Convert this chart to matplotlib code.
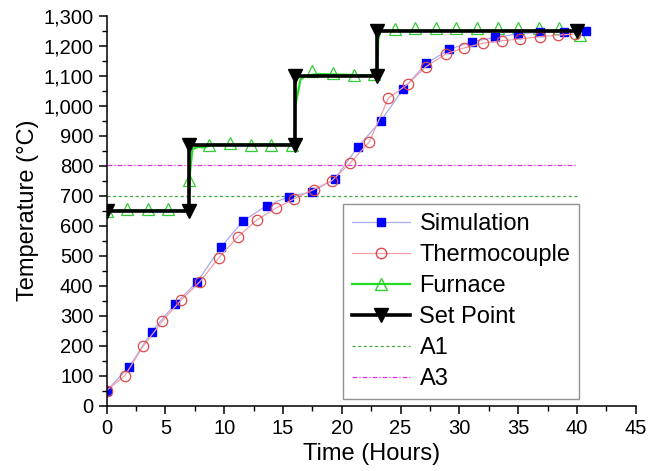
import matplotlib
matplotlib.use("Agg")
import matplotlib.pyplot as plt
from matplotlib.lines import Line2D
from matplotlib.ticker import MultipleLocator, FuncFormatter

plt.rcParams['font.family'] = ['Liberation Sans', 'DejaVu Sans']

# simulation (blue squares)
sim_x = [0, 1.9, 3.83, 5.81, 7.7, 9.7, 11.6, 13.6, 15.5, 17.45, 19.4, 21.36,
         23.35, 25.24, 27.2, 29.16, 31.05, 33.05, 34.95, 36.9, 38.9, 40.8]
sim_y = [50, 127, 246, 338, 412, 527, 615, 666, 696, 712, 755, 862,
         950, 1056, 1141, 1187, 1213, 1227, 1239, 1244, 1246, 1249]

# thermocouple (red open circles)
tc_x = [0, 1.56, 3.1, 4.74, 6.35, 7.94, 9.56, 11.17, 12.76, 14.4, 15.9, 17.6, 19.15,
        20.7, 22.35, 23.97, 25.6, 27.17, 28.85, 30.4, 32.05, 33.6, 35.2, 36.9, 38.4, 39.8]
tc_y = [50, 100, 197, 281, 352, 413, 493, 563, 618, 658, 688, 720, 749,
        808, 879, 1025, 1071, 1130, 1172, 1192, 1208, 1216, 1222, 1230, 1235, 1238]

# furnace trace and its markers
furn_x = [0, 7.0, 7.1, 7.3, 7.8, 8.3, 9.0, 16.0, 16.05, 16.5, 17.0, 18.0,
          23.0, 23.1, 23.3, 40.0, 40.3]
furn_y = [650, 650, 780, 855, 862, 860, 870, 870, 1000, 1088, 1100, 1105,
          1100, 1220, 1250, 1250, 1235]
furn_mx = [0, 1.75, 3.5, 5.25, 7.0, 8.75, 10.5, 12.25, 14.0, 15.75, 17.5, 19.25,
           21.0, 22.75, 24.5, 26.25, 28.0, 29.75, 31.5, 33.25, 35.0, 36.75, 38.5, 40.25]
furn_my = [650, 655, 655, 655, 752, 868, 875, 870, 870, 868, 1115, 1108,
           1102, 1105, 1256, 1257, 1257, 1257, 1257, 1257, 1257, 1257, 1257, 1235]

# set point steps
sp_x = [0, 7, 7, 16, 16, 23, 23, 40]
sp_y = [650, 650, 870, 870, 1100, 1100, 1250, 1250]

a1, a3 = 697, 802
crit_x = [0, 40]

fig = plt.figure(figsize=(6.5, 4.71), dpi=100)
ax = fig.add_axes([0.164, 0.139, 0.814, 0.828])

ax.plot(crit_x, [a1, a1], color='#44AA44', lw=0.9, ls=(0, (2.5, 2)))
ax.plot(crit_x, [a3, a3], color='#DD33DD', lw=0.9, ls=(0, (4, 1.5, 1, 1.5)))

ax.plot(furn_x, furn_y, color='#22DD22', lw=1.6)
ax.plot(furn_mx, furn_my, ls='none', marker='^', ms=8, mfc='none',
        mec='#33CC33', mew=0.9)

ax.plot(sim_x, sim_y, color='#AAAAEE', lw=0.9, marker='s', ms=6,
        mfc='#0000FF', mec='#0000FF')
ax.plot(tc_x, tc_y, color='#F0A0A8', lw=0.9, marker='o', ms=7.5,
        mfc='none', mec='#E04848', mew=0.9)

ax.plot(sp_x, sp_y, color='black', lw=2.6, marker='v', ms=9.5, mfc='black', mec='black')

ax.set_xlim(0, 45)
ax.set_ylim(0, 1300)
ax.xaxis.set_major_locator(MultipleLocator(5))
ax.xaxis.set_minor_locator(MultipleLocator(2.5))
ax.yaxis.set_major_locator(MultipleLocator(100))
ax.yaxis.set_minor_locator(MultipleLocator(50))
ax.yaxis.set_major_formatter(FuncFormatter(lambda v, p: f"{v:,.0f}"))
ax.tick_params(which='major', direction='out', length=6, width=1.1, labelsize=14.5)
ax.tick_params(which='minor', direction='out', length=3.5, width=1.0)

for s in ['top', 'right']:
    ax.spines[s].set_visible(False)
for s in ['left', 'bottom']:
    ax.spines[s].set_linewidth(1.1)

ax.set_xlabel('Time (Hours)', fontsize=17, labelpad=4)
ax.set_ylabel('Temperature (°C)', fontsize=17, labelpad=3)

handles = [
    Line2D([], [], color='#AAAAEE', lw=0.9, marker='s', ms=6, mfc='#0000FF', mec='#0000FF'),
    Line2D([], [], color='#F0A0A8', lw=0.9, marker='o', ms=7.5, mfc='none', mec='#E04848'),
    Line2D([], [], color='#22DD22', lw=1.6, marker='^', ms=8, mfc='none', mec='#33CC33'),
    Line2D([], [], color='black', lw=2.6, marker='v', ms=9.5, mfc='black', mec='black'),
    Line2D([], [], color='#44AA44', lw=0.9, ls=(0, (2.5, 2))),
    Line2D([], [], color='#DD33DD', lw=0.9, ls=(0, (4, 1.5, 1, 1.5))),
]
labels = ['Simulation', 'Thermocouple', 'Furnace', 'Set Point', 'A1', 'A3']
leg = ax.legend(handles, labels, loc='upper left', bbox_to_anchor=(0.528, 0.566),
                bbox_transform=fig.transFigure, borderaxespad=0, fontsize=17,
                fancybox=False, frameon=True, handlelength=2.45, handletextpad=0.4,
                labelspacing=0.38, borderpad=0.38, edgecolor='#777777')
leg.get_frame().set_linewidth(1.0)

fig.savefig('out.png', dpi=100)
